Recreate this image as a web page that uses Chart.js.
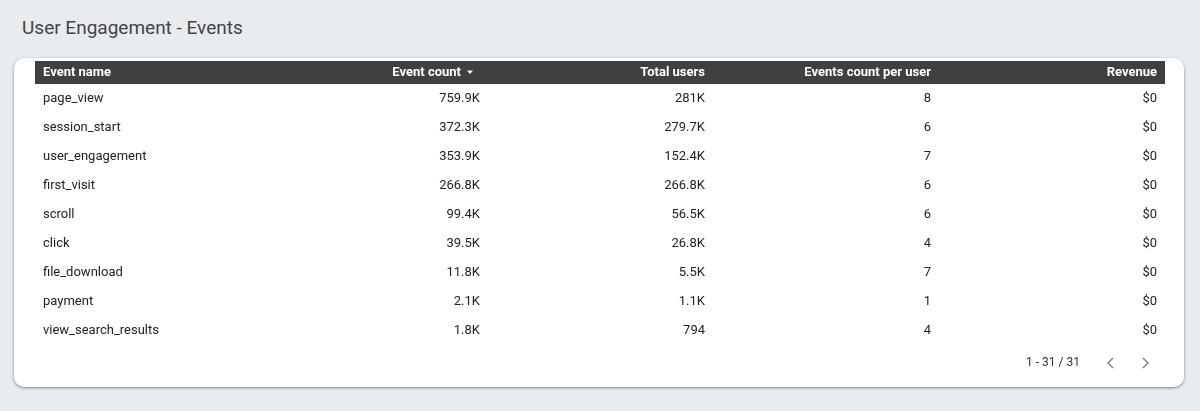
<!DOCTYPE html>
<html><head><meta charset="utf-8">
<script src="https://cdn.jsdelivr.net/npm/chart.js@4.4.0/dist/chart.umd.min.js"></script>
<style>
body{margin:0;background:#e9ecef;font-family:Roboto,sans-serif;width:1200px;height:411px;position:relative;overflow:hidden}
#title{position:absolute;left:22px;top:16px;font-size:19px;color:#444;font-weight:400}
#card{position:absolute;left:14px;top:58px;width:1170px;height:329px;background:#fff;border-radius:10px;box-shadow:0 1px 3px rgba(0,0,0,.45)}
#wrap{position:absolute;left:0;top:0;width:1200px;height:411px}
</style></head><body>
<div id="title">User Engagement - Events</div>
<div id="card"></div>
<div id="wrap"><canvas id="tbl"></canvas></div>
<script>
const headers = ['Event name','Event count','Total users','Events count per user','Revenue'];
const eventNames = ['page_view','session_start','user_engagement','first_visit','scroll','click','file_download','payment','view_search_results'];
const eventCount = ['759.9K','372.3K','353.9K','266.8K','99.4K','39.5K','11.8K','2.1K','1.8K'];
const totalUsers = ['281K','279.7K','152.4K','266.8K','56.5K','26.8K','5.5K','1.1K','794'];
const perUser = ['8','6','7','6','6','4','7','1','4'];
const revenue = ['$0','$0','$0','$0','$0','$0','$0','$0','$0'];
const pageInfo = '1 - 31 / 31';

const colX = [43, 480, 705, 931, 1157];
const colAlign = ['left','right','right','right','right'];

const tablePlugin = {
  id:'tablePlugin',
  afterDraw(chart){
    const c = chart.ctx, y = chart.scales.y, x = chart.scales.x;
    c.save();
    // header
    c.fillStyle = '#404040';
    c.fillRect(x.getPixelForValue(35), 61, x.getPixelForValue(1165)-x.getPixelForValue(35), 23);
    c.fillStyle = '#fff';
    c.font = 'bold 13px Roboto';
    c.textBaseline = 'middle';
    headers.forEach((h,i)=>{
      c.textAlign = colAlign[i];
      let px = x.getPixelForValue(colX[i]);
      if(i===1) px -= 19;
      c.fillText(h, px, 72.5);
    });
    // sort arrow
    c.beginPath();
    c.moveTo(x.getPixelForValue(467),70.5);c.lineTo(x.getPixelForValue(473),70.5);c.lineTo(x.getPixelForValue(470),74);
    c.closePath();c.fill();
    // cells
    c.font = '13px Roboto';
    c.fillStyle = '#222';
    const cols = [eventNames,eventCount,totalUsers,perUser,revenue];
    eventNames.forEach((n,r)=>{
      const py = y.getPixelForValue(r);
      cols.forEach((col,i)=>{
        c.textAlign = colAlign[i];
        c.fillText(col[r], x.getPixelForValue(colX[i]), py);
      });
    });
    // pagination
    c.font = '12px Roboto';
    c.fillStyle = '#333';
    c.textAlign = 'right';
    c.fillText(pageInfo, x.getPixelForValue(1080), 363);
    c.strokeStyle = '#777'; c.lineWidth = 1.3;
    c.beginPath();
    c.moveTo(1113,358);c.lineTo(1108,363);c.lineTo(1113,368);
    c.moveTo(1143,358);c.lineTo(1148,363);c.lineTo(1143,368);
    c.stroke();
    c.restore();
  }
};

new Chart(document.getElementById('tbl'), {
  type:'bar',
  data:{labels:eventNames, datasets:[{data:eventNames.map(()=>0), backgroundColor:'rgba(0,0,0,0)'}]},
  options:{
    responsive:true, maintainAspectRatio:false, animation:false, indexAxis:'y',
    layout:{padding:{top:84.5,bottom:65.5,left:0,right:0}},
    plugins:{legend:{display:false},tooltip:{enabled:false}},
    scales:{
      x:{type:'linear',min:0,max:1200,display:false},
      y:{type:'category',display:false,offset:true}
    }
  },
  plugins:[tablePlugin]
});
</script>
</body></html>
